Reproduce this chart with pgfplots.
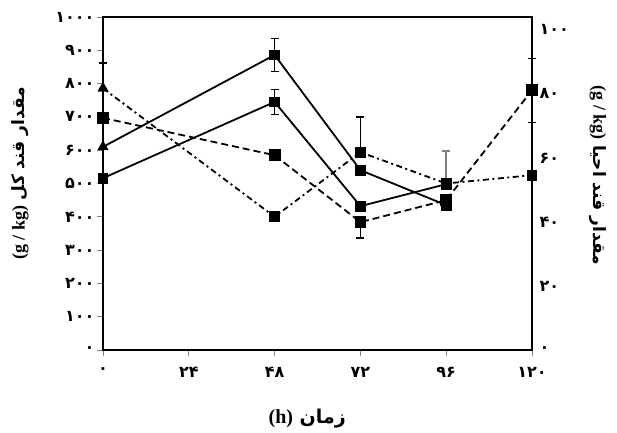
\documentclass[border=0pt]{standalone}
\usepackage{pgfplots}
\pgfplotsset{compat=1.18}
\usepackage{fontspec}
\setmainfont{Liberation Serif}
\newfontfamily\arabicfont[Script=Arabic]{DejaVu Sans}
\TeXXeTstate=1
\newcommand{\fa}[1]{{\arabicfont\bfseries #1}}
\begin{document}
\begin{tikzpicture}[x=1pt,y=1pt]
\useasboundingbox (0,0) rectangle (617,432);
\begin{axis}[
  at={(103pt,82pt)}, anchor=south west,
  scale only axis, width=429pt, height=333pt,
  xmin=0, xmax=120, ymin=0, ymax=1000,
  axis line style={line width=1.8pt},
  tick pos=left, tick align=outside,
  major tick length=6pt,
  every tick/.style={gray, line width=0.8pt},
  xtick={0,24,48,72,96,120},
  xticklabels={\fa{۰},\fa{۲۴},\fa{۴۸},\fa{۷۲},\fa{۹۶},\fa{۱۲۰}},
  ytick={0,100,...,1000},
  yticklabels={\fa{۰},\fa{۱۰۰},\fa{۲۰۰},\fa{۳۰۰},\fa{۴۰۰},\fa{۵۰۰},\fa{۶۰۰},\fa{۷۰۰},\fa{۸۰۰},\fa{۹۰۰},\fa{۱۰۰۰}},
  ticklabel style={font=\fontsize{16}{18}\selectfont},
  xticklabel style={yshift=-8pt},
  yticklabel style={xshift=1pt},
  xlabel={\arabicfont\bfseries\beginR زمان {\rmfamily\fontsize{20}{22}\selectfont\beginL(h)\endL}\endR},
  xlabel style={font=\fontsize{19}{21}\selectfont, at={(axis description cs:0.476,-0.207)}, anchor=center},
  ylabel={\arabicfont\bfseries\beginR مقدار قند کل {\rmfamily\fontsize{18}{20}\selectfont\beginL(g / kg)\endL}\endR},
  ylabel style={font=\fontsize{17}{19}\selectfont, at={(axis description cs:-0.193,0.53)}, anchor=center},
  clip=false,
]
% series 1 solid (upper)
\addplot[black, solid, line width=1.8pt, mark=square*, mark size=4.5pt, mark indices={2,3,4},
  error bars/.cd, y dir=both, y explicit, error bar style={black, line width=1.3pt}, error mark options={rotate=90, mark size=4pt, line width=1.3pt}]
  coordinates {(0,610) (48,886) +- (0,50) (72,540) (96,435)};
\addplot[only marks, black, mark=triangle*, mark size=6pt] coordinates {(0,610)};
% series 2 solid (lower)
\addplot[black, solid, line width=1.8pt, mark=square*, mark size=4.5pt,
  error bars/.cd, y dir=both, y explicit, error bar style={black, line width=1.3pt}, error mark options={rotate=90, mark size=4pt, line width=1.3pt}]
  coordinates {(0,516) (48,745) +- (0,38) (72,432) (96,498)};
% series 3 dashed
\addplot[black, line width=1.8pt, dash pattern=on 7pt off 4pt, mark=square*, mark size=5pt, mark options={solid},
  error bars/.cd, y dir=both, y explicit, error bar style={black, line width=1.3pt, solid}, error mark options={rotate=90, mark size=4pt, line width=1.3pt, solid}]
  coordinates {(0,697) (48,585) (72,384) += (0,0) -= (0,48) (96,450) (120,780) +- (0,96)};
% series 4 dash-dot
\addplot[black, line width=1.8pt, dash pattern=on 6pt off 3.5pt on 2pt off 3.5pt, mark=square*, mark size=4.5pt, mark indices={2,3,4,5}, mark options={solid},
  error bars/.cd, y dir=both, y explicit, error bar style={black, line width=1.3pt, solid}, error mark options={rotate=90, mark size=4pt, line width=1.3pt, solid}]
  coordinates {(0,786) += (0,76) -= (0,0) (48,400) +- (0,12) (72,594) += (0,106) -= (0,0) (96,500) (120,525) +- (0,15)};
\addplot[only marks, black, mark=triangle*, mark size=6pt] coordinates {(0,786)};
\addplot[draw=none, mark=none, error bars/.cd, y dir=plus, y explicit, error bar style={draw=gray, line width=1.5pt}, error mark options={rotate=90, mark size=4pt, line width=1.5pt, draw=gray}]
  coordinates {(96,500) +- (0,97)};
\end{axis}
\begin{axis}[
  at={(103pt,82pt)}, anchor=south west,
  scale only axis, width=429pt, height=333pt,
  xmin=0, xmax=120, ymin=0, ymax=104,
  axis x line=none, axis y line*=right,
  axis line style={line width=1.8pt},
  major tick length=0pt,
  ytick={0,20,...,100},
  yticklabels={\fa{۰},\fa{۲۰},\fa{۴۰},\fa{۶۰},\fa{۸۰},\fa{۱۰۰}},
  ticklabel style={font=\fontsize{16}{18}\selectfont},
  yticklabel style={xshift=4pt},
  ylabel={\arabicfont\bfseries\beginR مقدار قند احیا {\rmfamily\fontsize{18}{20}\selectfont\beginL(g / kg)\endL}\endR},
  ylabel style={font=\fontsize{17}{19}\selectfont, at={(axis description cs:1.154,0.525)}, anchor=center, rotate=180},
  clip=false,
]
\end{axis}
\end{tikzpicture}
\end{document}
